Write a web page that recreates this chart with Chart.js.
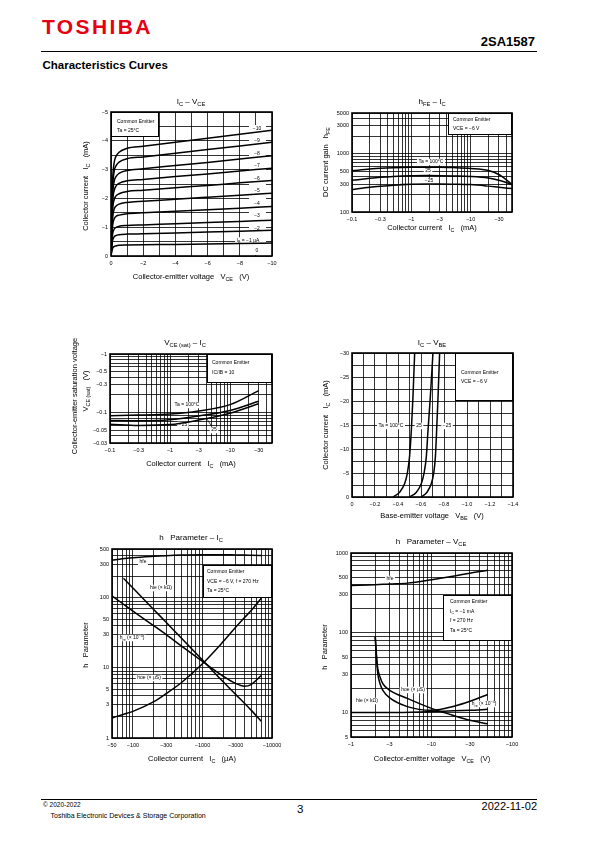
<!DOCTYPE html>
<html>
<head>
<meta charset="utf-8">
<script src="https://cdn.jsdelivr.net/npm/chart.js@4.4.1/dist/chart.umd.min.js"></script>
<style>
  body { margin: 0; width: 595px; height: 842px; position: relative; background: #fff; overflow: hidden;
         font-family: "Liberation Sans", Arial, sans-serif; color: #000; }
  .t { position: absolute; white-space: nowrap; line-height: 1; }
  .rule { position: absolute; left: 41px; width: 496px; height: 1px; background: #000; }
  canvas { position: absolute; }
</style>
</head>
<body>
<div class="t" style="left:42px;top:15.5px;font-size:21px;font-weight:bold;color:#e60012;letter-spacing:2.4px">TOSHIBA</div>
<div class="t" style="right:60px;top:35px;font-size:13px;font-weight:bold">2SA1587</div>
<div class="rule" style="top:50.5px"></div>
<div class="t" style="left:42.5px;top:59.5px;font-size:11.5px;font-weight:bold">Characteristics Curves</div>
<div class="rule" style="top:799px"></div>
<div class="t" style="left:43px;top:802px;font-size:6.5px">© 2020-2022</div>
<div class="t" style="left:50.5px;top:811.5px;font-size:7px">Toshiba Electronic Devices &amp; Storage Corporation</div>
<div class="t" style="left:297px;top:803.5px;font-size:11.5px">3</div>
<div class="t" style="right:58px;top:800.5px;font-size:11px">2022-11-02</div>

<script>
// ---- IC - VCE (mA vs V), one curve per base current step
const vceSteps = [0, -0.05, -0.1, -0.2, -0.3, -0.5, -1, -2, -4, -6, -8, -10];
const icIb10 = [0, -1.4, -2.6, -3.25, -3.45, -3.6, -3.74, -3.81, -3.95, -4.09, -4.23, -4.37];
const icIb9 = [0, -1.3, -2.35, -2.95, -3.12, -3.26, -3.38, -3.44, -3.57, -3.7, -3.82, -3.95];
const icIb8 = [0, -1.15, -2.1, -2.6, -2.75, -2.87, -2.97, -3.03, -3.14, -3.25, -3.37, -3.48];
const icIb7 = [0, -1.0, -1.85, -2.28, -2.42, -2.52, -2.61, -2.66, -2.76, -2.85, -2.95, -3.05];
const icIb6 = [0, -0.85, -1.6, -1.96, -2.08, -2.16, -2.24, -2.28, -2.37, -2.45, -2.54, -2.62];
const icIb5 = [0, -0.72, -1.32, -1.63, -1.73, -1.8, -1.86, -1.9, -1.97, -2.04, -2.11, -2.18];
const icIb4 = [0, -0.57, -1.05, -1.29, -1.37, -1.42, -1.47, -1.5, -1.55, -1.61, -1.66, -1.72];
const icIb3 = [0, -0.42, -0.76, -0.93, -0.99, -1.03, -1.06, -1.08, -1.12, -1.16, -1.2, -1.24];
const icIb2 = [0, -0.3, -0.54, -0.67, -0.71, -0.74, -0.76, -0.77, -0.8, -0.83, -0.86, -0.89];
const icIb1 = [0, -0.15, -0.27, -0.33, -0.35, -0.37, -0.38, -0.39, -0.4, -0.42, -0.43, -0.45];
const ibNames = ['−10', '−9', '−8', '−7', '−6', '−5', '−4', '−3', '−2', 'I_{B} = −1 µA', '0'];
const c1XLabels = [0, -2, -4, -6, -8, -10];
const c1YLabels = [0, -1, -2, -3, -4, -5];

// ---- hFE - IC (mA)
const hfeIc = [0.1, 0.2, 0.3, 0.5, 1, 2, 3, 5, 10, 20, 30, 50];
const hfe100 = [510, 545, 562, 575, 585, 588, 585, 578, 560, 515, 440, 300];
const hfe25 = [350, 378, 393, 407, 418, 421, 420, 416, 408, 384, 352, 296];
const hfeM25 = [242, 265, 276, 288, 298, 302, 302, 300, 295, 278, 266, 252];
const mAxLabels = [0.1, 0.3, 1, 3, 10, 30];
const hfeYLabels = [100, 300, 500, 1000, 3000, 5000];

// ---- VCE(sat) - IC (V vs mA)
const satIc = [0.1, 0.3, 1, 3, 10, 30];
const sat100 = [0.088, 0.090, 0.094, 0.106, 0.136, 0.236];
const sat25 = [0.073, 0.072, 0.075, 0.087, 0.108, 0.155];
const satM25 = [0.063, 0.060, 0.062, 0.074, 0.097, 0.141];
const satYLabels = [0.03, 0.05, 0.1, 0.3, 0.5, 1];

// ---- IC - VBE (mA vs V)
const icVbe = [0, -1, -2.8, -4.9, -8.3, -13.9, -20.8, -30];
const vbe100 = [-0.357, -0.414, -0.458, -0.481, -0.500, -0.516, -0.530, -0.545];
const vbe25 = [-0.500, -0.560, -0.603, -0.626, -0.646, -0.661, -0.681, -0.704];
const vbeM25 = [-0.603, -0.652, -0.690, -0.710, -0.725, -0.736, -0.748, -0.762];
const c4XLabels = [0, -0.2, -0.4, -0.6, -0.8, -1.0, -1.2, -1.4];
const c4YLabels = [0, -5, -10, -15, -20, -25, -30];

// ---- h parameter - IC (µA)
const hpIc = [50, 70, 100, 200, 300, 500, 1000, 2000, 3000, 4000, 5000, 7000];
const hpHfe = [345, 362, 375, 393, 402, 410, 415, 415, 412, 410, 408, 405];
const hpHre = [107, 84, 65, 40, 30, 20.5, 12.4, 7.6, 6.0, 5.5, 5.8, 7.8];
const hpHoe = [1.93, 2.15, 2.4, 3.3, 4.3, 6.2, 11.5, 24, 38, 52, 66, 99];
const hieIc = [73, 100, 200, 300, 500, 1000, 2000, 3000, 5000, 7000];
const hpHie = [191, 139, 68, 45, 26.5, 13, 6.3, 4.2, 2.5, 1.73];
const uAxLabels = [50, 100, 300, 1000, 3000, 10000];
const hpYLabels = [1, 3, 5, 10, 30, 50, 100, 300, 500];

// ---- h parameter - VCE (V)
const hvVce = [1, 2, 3, 5, 10, 20, 30, 50];
const hvHfe = [393, 400, 410, 420, 463, 520, 560, 607];
const hieVce = [1, 3, 10, 30, 50];
const hvHie = [10.1, 10.1, 10.4, 10.8, 11.1];
const hoeVce = [2.0, 2.05, 2.1, 2.15, 2.3, 2.5, 3, 5, 10, 20, 30, 50];
const hvHoe = [90, 62, 45, 36, 28, 23, 19.3, 15.2, 11.4, 9.1, 8.1, 7.3];
const hvHre = [90, 58, 40, 31, 23, 19, 15.5, 12, 10.8, 12.3, 14, 17];
const vXLabels = [1, 3, 10, 30, 100];
const hvYLabels = [5, 10, 30, 50, 100, 300, 500, 1000];

const FONT = '"Liberation Sans", Arial, sans-serif';
Chart.defaults.font.family = FONT;
Chart.defaults.color = '#000';

const pts = (xs, ys) => xs.map((x, i) => ({ x: x, y: ys[i] }));
const has = (list, v) => list.some(l => Math.abs(l - v) <= Math.max(1e-9, Math.abs(l) * 1e-6));
const num = v => String(+Math.abs(v).toPrecision(6));
const neg = v => (Math.abs(v) < 1e-9 ? '0' : '\u2212' + num(v));
const pos = v => num(v);

function logGrid(min, max) {
  const out = [];
  for (let d = Math.floor(Math.log10(min)); d <= Math.ceil(Math.log10(max)); d++) {
    for (let m = 1; m <= 9; m++) {
      const v = +(m * Math.pow(10, d)).toPrecision(6);
      if (v >= min * 0.9999 && v <= max * 1.0001) out.push(v);
    }
  }
  return out;
}
function linGrid(step, count) {
  return Array.from({ length: count + 1 }, (_, i) => +(-i * step).toFixed(4));
}

// text with _{sub} and ^{sup} parts
function drawRich(ctx, str, x, y, size, align, rotate, bg) {
  const ps = str.split(/(_\{[^}]*\}|\^\{[^}]*\})/).filter(s => s).map(s =>
    s.startsWith('_{') ? { t: s.slice(2, -1), k: 'sub' } :
    s.startsWith('^{') ? { t: s.slice(2, -1), k: 'sup' } : { t: s, k: '' });
  ctx.save();
  ctx.translate(x, y);
  if (rotate) ctx.rotate(-Math.PI / 2);
  ctx.textBaseline = 'middle';
  ctx.textAlign = 'left';
  let w = 0;
  ps.forEach(p => {
    p.s = p.k ? size * 0.72 : size;
    ctx.font = p.s + 'px ' + FONT;
    p.w = ctx.measureText(p.t).width;
    w += p.w;
  });
  let cx = align === 'left' ? 0 : -w / 2;
  if (bg) {
    ctx.fillStyle = '#fff';
    ctx.fillRect(cx - 1.5, -size * 0.65, w + 3, size * 1.3);
  }
  ctx.fillStyle = '#000';
  ps.forEach(p => {
    ctx.font = p.s + 'px ' + FONT;
    ctx.fillText(p.t, cx, p.k === 'sub' ? size * 0.3 : p.k === 'sup' ? -size * 0.35 : 0);
    cx += p.w;
  });
  ctx.restore();
}

function decoPlugin(o) {
  return {
    id: 'deco',
    beforeDatasetsDraw(chart) {
      const ctx = chart.ctx;
      ctx.save();
      ctx.translate(-o.ox, -o.oy);
      (o.strips || []).forEach(r => {
        ctx.fillStyle = '#fff';
        ctx.fillRect(r[0], r[1], r[2] - r[0], r[3] - r[1]);
      });
      (o.boxes || []).forEach(b => {
        ctx.fillStyle = '#fff';
        ctx.fillRect(b.r[0], b.r[1], b.r[2] - b.r[0], b.r[3] - b.r[1]);
        ctx.strokeStyle = '#000';
        ctx.lineWidth = 1;
        ctx.strokeRect(b.r[0] + 0.5, b.r[1] + 0.5, b.r[2] - b.r[0] - 1, b.r[3] - b.r[1] - 1);
        b.lines.forEach(l => drawRich(ctx, l[0], b.tx, l[1], 5, 'left'));
      });
      (o.labels || []).forEach(l => {
        if (l.lead) {
          ctx.strokeStyle = '#000';
          ctx.lineWidth = 0.7;
          ctx.beginPath();
          ctx.moveTo(l.lead[0], l.lead[1]);
          ctx.lineTo(l.lead[2], l.lead[3]);
          ctx.stroke();
        }
        drawRich(ctx, l.t, l.x, l.y, 5, 'center', false, true);
      });
      ctx.restore();
    },
    afterDraw(chart) {
      const ctx = chart.ctx, a = chart.chartArea;
      ctx.save();
      ctx.strokeStyle = '#000';
      ctx.lineWidth = 1.6;
      ctx.strokeRect(a.left, a.top, a.right - a.left, a.bottom - a.top);
      ctx.translate(-o.ox, -o.oy);
      drawRich(ctx, o.title[0], o.title[1], o.title[2], 8, 'center');
      drawRich(ctx, o.xTitle[0], o.xTitle[1], o.xTitle[2], 7.5, 'center');
      o.yTitles.forEach(t => drawRich(ctx, t[0], t[1], t[2], 7.5, 'center', true));
      ctx.restore();
    }
  };
}

function axis(a, dir, size) {
  return {
    type: a.log ? 'logarithmic' : 'linear',
    min: a.min,
    max: a.max,
    reverse: !!a.reverse,
    grid: { color: '#000', lineWidth: 0.8, drawTicks: false },
    border: { display: false },
    ticks: {
      font: { size: 5.5 },
      color: '#000',
      padding: dir === 'x' ? 4 : 3,
      autoSkip: false,
      maxRotation: 0,
      minRotation: 0,
      callback: v => (has(a.labels, v) ? a.fmt(v) : '')
    },
    afterBuildTicks: sc => { sc.ticks = a.grid.map(v => ({ value: v })); },
    afterFit: sc => {
      if (dir === 'x') sc.height = size; else sc.width = size;
      sc.paddingLeft = sc.paddingRight = sc.paddingTop = sc.paddingBottom = 0;
    }
  };
}

function makeChart(plot, cfg) {
  const ml = 60, mr = 14, mt = 28, mb = 34;
  const w = plot.r - plot.l + ml + mr, h = plot.b - plot.t + mt + mb;
  const canvas = document.createElement('canvas');
  canvas.width = w;
  canvas.height = h;
  canvas.style.left = (plot.l - ml) + 'px';
  canvas.style.top = (plot.t - mt) + 'px';
  canvas.style.width = w + 'px';
  canvas.style.height = h + 'px';
  document.body.appendChild(canvas);
  cfg.deco.ox = plot.l - ml;
  cfg.deco.oy = plot.t - mt;
  return new Chart(canvas, {
    type: 'line',
    data: {
      datasets: cfg.series.map(d => ({
        data: d, borderColor: '#000', borderWidth: 1.5, pointRadius: 0,
        fill: false, cubicInterpolationMode: 'monotone'
      }))
    },
    options: {
      responsive: false,
      animation: false,
      devicePixelRatio: 1,
      layout: { padding: { left: 0, top: mt, right: mr, bottom: 0 } },
      plugins: { legend: { display: false }, tooltip: { enabled: false } },
      scales: { x: axis(cfg.x, 'x', mb), y: axis(cfg.y, 'y', ml) }
    },
    plugins: [decoPlugin(cfg.deco)]
  });
}

// 1. IC - VCE
const c1Curves = [icIb10, icIb9, icIb8, icIb7, icIb6, icIb5, icIb4, icIb3, icIb2, icIb1];
const c1LabelY = [128.5, 140.5, 153.5, 166, 178.5, 190.5, 203.5, 216, 228.5, 240.5, 251];
makeChart({ l: 111, t: 112, r: 272, b: 256 }, {
  series: c1Curves.map(c => pts(vceSteps, c)),
  x: { min: -10, max: 0, reverse: true, grid: linGrid(1, 10), labels: c1XLabels, fmt: neg },
  y: { min: -5, max: 0, reverse: true, grid: linGrid(0.5, 10), labels: c1YLabels, fmt: neg },
  deco: {
    title: ['I_{C} – V_{CE}', 191, 102],
    xTitle: ['Collector-emitter voltage   V_{CE}   (V)', 191, 277],
    yTitles: [['Collector current   I_{C}   (mA)', 86, 186]],
    boxes: [{ r: [111, 112, 159, 137], tx: 117, lines: [['Common Emitter', 122], ['Ta = 25°C', 131]] }],
    strips: [[249, 125, 266, 255]],
    labels: ibNames.map((t, i) => ({ t: t, x: i === 9 ? 248 : 257, y: c1LabelY[i] }))
  }
});

// 2. hFE - IC
makeChart({ l: 352, t: 113, r: 512, b: 212 }, {
  series: [pts(hfeIc, hfe100), pts(hfeIc, hfe25), pts(hfeIc, hfeM25)],
  x: { log: true, min: 0.1, max: 50, grid: logGrid(0.1, 50), labels: mAxLabels, fmt: neg },
  y: { log: true, min: 100, max: 5000, grid: logGrid(100, 5000), labels: hfeYLabels, fmt: pos },
  deco: {
    title: ['h_{FE} – I_{C}', 432, 102],
    xTitle: ['Collector current   I_{C}   (mA)', 432, 228],
    yTitles: [['DC current gain   h_{FE}', 326, 162]],
    boxes: [{ r: [448, 113, 512, 135], tx: 453, lines: [['Common Emitter', 119.5], ['VCE = −6 V', 129]] }],
    labels: [{ t: 'Ta = 100°C', x: 431, y: 162 }, { t: '25', x: 428, y: 171 }, { t: '−25', x: 429, y: 181 }]
  }
});

// 3. VCE(sat) - IC
makeChart({ l: 110, t: 354, r: 272, b: 443 }, {
  series: [pts(satIc, sat100), pts(satIc, sat25), pts(satIc, satM25)],
  x: { log: true, min: 0.1, max: 50, grid: logGrid(0.1, 50), labels: mAxLabels, fmt: neg },
  y: { log: true, min: 0.03, max: 1, grid: logGrid(0.03, 1), labels: satYLabels, fmt: neg },
  deco: {
    title: ['V_{CE (sat)} – I_{C}', 185, 343],
    xTitle: ['Collector current   I_{C}   (mA)', 191, 464],
    yTitles: [['Collector-emitter saturation voltage', 75, 396], ['V_{CE (sat)}   (V)', 86, 391]],
    boxes: [{ r: [207, 354, 272, 383], tx: 212, lines: [['Common Emitter', 363], ['IC/IB = 10', 373]] }],
    labels: [
      { t: 'Ta = 100°C', x: 187, y: 405 },
      { t: '−25', x: 183, y: 425 },
      { t: '25', x: 214, y: 430, lead: [207, 419, 212, 427] }
    ]
  }
});

// 4. IC - VBE
makeChart({ l: 352, t: 353, r: 513, b: 497 }, {
  series: [pts(vbe100, icVbe), pts(vbe25, icVbe), pts(vbeM25, icVbe)],
  x: { min: -1.4, max: 0, reverse: true, grid: linGrid(0.1, 14), labels: c4XLabels,
       fmt: v => (Math.abs(v) < 1e-9 ? '0' : '\u2212' + Math.abs(v).toFixed(1)) },
  y: { min: -30, max: 0, reverse: true, grid: linGrid(2.5, 12), labels: c4YLabels, fmt: neg },
  deco: {
    title: ['I_{C} – V_{BE}', 432, 343],
    xTitle: ['Base-emitter voltage   V_{BE}   (V)', 432, 516],
    yTitles: [['Collector current   I_{C}   (mA)', 326, 425]],
    boxes: [{ r: [455, 353, 513, 401], tx: 461, lines: [['Common Emitter', 373], ['VCE = −6 V', 382]] }],
    labels: [{ t: 'Ta = 100°C', x: 391, y: 426 }, { t: '25', x: 419, y: 426 }, { t: '−25', x: 447, y: 426 }]
  }
});

// 5. h parameter - IC
makeChart({ l: 112, t: 549, r: 272, b: 738 }, {
  series: [pts(hpIc, hpHfe), pts(hieIc, hpHie), pts(hpIc, hpHre), pts(hpIc, hpHoe)],
  x: { log: true, min: 50, max: 10000, grid: logGrid(50, 10000), labels: uAxLabels, fmt: neg },
  y: { log: true, min: 1, max: 500, grid: logGrid(1, 500), labels: hpYLabels, fmt: pos },
  deco: {
    title: ['h   Parameter – I_{C}', 191, 538],
    xTitle: ['Collector current   I_{C}   (µA)', 192, 759],
    yTitles: [['h   Parameter', 86, 645]],
    boxes: [{ r: [203, 565, 272, 598], tx: 207,
              lines: [['Common Emitter', 572], ['VCE = −6 V, f = 270 Hz', 581.5], ['Ta = 25°C', 591]] }],
    labels: [
      { t: 'hfe', x: 143, y: 562 },
      { t: 'hie (× kΩ)', x: 161, y: 588 },
      { t: 'h_{re} (× 10^{−4})', x: 132, y: 638 },
      { t: 'hoe (× µS)', x: 149, y: 678 }
    ]
  }
});

// 6. h parameter - VCE
makeChart({ l: 351, t: 553, r: 512, b: 737 }, {
  series: [pts(hvVce, hvHfe), pts(hieVce, hvHie), pts(hoeVce, hvHoe), pts(hoeVce, hvHre)],
  x: { log: true, min: 1, max: 100, grid: logGrid(1, 100), labels: vXLabels, fmt: neg },
  y: { log: true, min: 5, max: 1000, grid: logGrid(5, 1000), labels: hvYLabels, fmt: pos },
  deco: {
    title: ['h   Parameter – V_{CE}', 431, 542],
    xTitle: ['Collector-emitter voltage   V_{CE}   (V)', 432, 759],
    yTitles: [['h   Parameter', 325, 647]],
    boxes: [{ r: [443, 595, 512, 641], tx: 450,
              lines: [['Common Emitter', 602], ['I_{C} = −1 mA', 611.5], ['f = 270 Hz', 621], ['Ta = 25°C', 631]] }],
    labels: [
      { t: 'hfe', x: 390, y: 579 },
      { t: 'hoe (× µS)', x: 413, y: 690 },
      { t: 'hie (× kΩ)', x: 367, y: 701 },
      { t: 'h_{re} (× 10^{−4})', x: 484, y: 704 }
    ]
  }
});
</script>
</body>
</html>
